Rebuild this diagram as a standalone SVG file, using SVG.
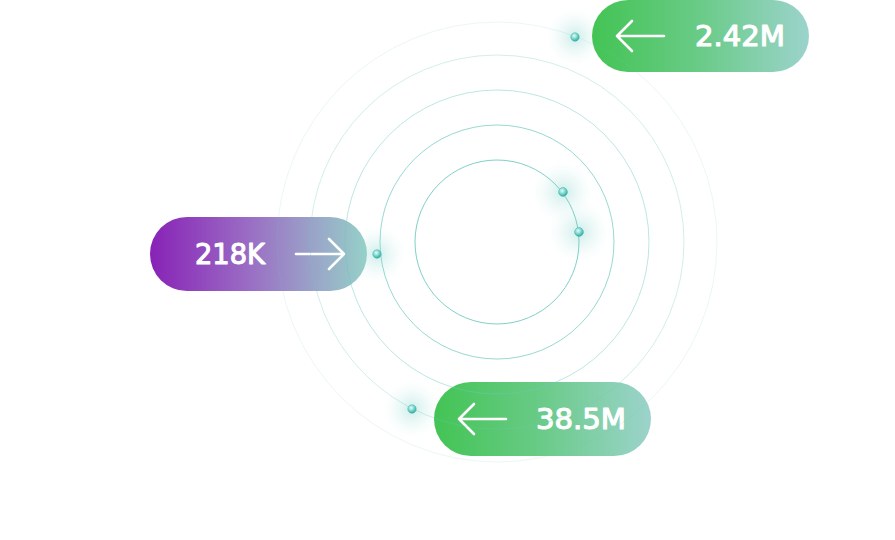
<svg xmlns="http://www.w3.org/2000/svg" width="895" height="540" viewBox="0 0 895 540">
<defs>
<linearGradient id="gGreen" x1="0" y1="0" x2="1" y2="0">
<stop offset="0" stop-color="#43c454"/>
<stop offset="0.5" stop-color="#6acb88"/>
<stop offset="1" stop-color="#9cd3cc"/>
</linearGradient>
<linearGradient id="gPurple" x1="0" y1="0" x2="1" y2="0">
<stop offset="0" stop-color="#8822b6"/>
<stop offset="0.45" stop-color="#9a6cc4"/>
<stop offset="0.75" stop-color="#9aa3c8"/>
<stop offset="1" stop-color="#95d1c8"/>
</linearGradient>
<radialGradient id="glow">
<stop offset="0" stop-color="#8fd8d0" stop-opacity="0.45"/>
<stop offset="0.5" stop-color="#b5e6e0" stop-opacity="0.2"/>
<stop offset="1" stop-color="#ffffff" stop-opacity="0"/>
</radialGradient>
<radialGradient id="ball" cx="0.4" cy="0.35" r="0.65">
<stop offset="0" stop-color="#e4fbf8"/>
<stop offset="0.45" stop-color="#8edfd6"/>
<stop offset="1" stop-color="#2fa9a0"/>
</radialGradient>
<style>
.ring{fill:none;stroke:#6cc7bd}
.pilltxt{font-family:"DejaVu Sans","Liberation Sans",sans-serif;font-size:27.5px;fill:#ffffff;stroke:#ffffff;stroke-width:1.1;stroke-linejoin:round}
.arrow{fill:none;stroke:#ffffff;stroke-width:2.6;stroke-linecap:round;stroke-linejoin:round}
.halo{fill:url(#glow)}
.dot{fill:url(#ball);stroke:#49b8ae;stroke-width:0.6}
</style>
</defs>
<rect width="895" height="540" fill="#ffffff"/>

<g id="glows">
<circle class="halo" cx="575" cy="37" r="32"/>
<circle class="halo" cx="563" cy="192" r="34"/>
<circle class="halo" cx="579" cy="232" r="34"/>
<circle class="halo" cx="377" cy="254" r="32"/>
<circle class="halo" cx="412" cy="409" r="32"/>
</g>

<g id="pill-242M">
<rect x="592" y="0" width="217" height="72" rx="36" fill="url(#gGreen)"/>
<path class="arrow" d="M664,36 H617 M632,21 L617,36 L632,51"/>
<text class="pilltxt" x="785" y="46" text-anchor="end" textLength="90" lengthAdjust="spacingAndGlyphs">2.42M</text>
</g>

<g id="pill-218K">
<rect x="150" y="217" width="217" height="74" rx="37" fill="url(#gPurple)"/>
<text class="pilltxt" x="195" y="264" textLength="70" lengthAdjust="spacingAndGlyphs">218K</text>
<path class="arrow" d="M296,254 H344 M329,239 L344,254 L329,269"/>
</g>

<g id="pill-385M">
<rect x="434" y="382" width="217" height="74" rx="37" fill="url(#gGreen)"/>
<path class="arrow" d="M506,419 H459 M474,404 L459,419 L474,434"/>
<text class="pilltxt" x="626" y="429" text-anchor="end" textLength="90" lengthAdjust="spacingAndGlyphs">38.5M</text>
</g>

<g id="rings">
<circle class="ring" cx="497" cy="242" r="82" stroke-opacity="0.85" stroke-width="1"/>
<circle class="ring" cx="497" cy="242" r="117" stroke-opacity="0.7" stroke-width="1"/>
<circle class="ring" cx="497" cy="242" r="152" stroke-opacity="0.45" stroke-width="1"/>
<circle class="ring" cx="497" cy="242" r="187" stroke-opacity="0.3" stroke-width="1"/>
<circle class="ring" cx="497" cy="242" r="220" stroke-opacity="0.15" stroke-width="1"/>
</g>

<g id="dots">
<circle class="dot" cx="575" cy="37" r="4.2"/>
<circle class="dot" cx="563" cy="192" r="4.4"/>
<circle class="dot" cx="579" cy="232" r="4.4"/>
<circle class="dot" cx="377" cy="254" r="4.2"/>
<circle class="dot" cx="412" cy="409" r="4.2"/>
</g>
</svg>
